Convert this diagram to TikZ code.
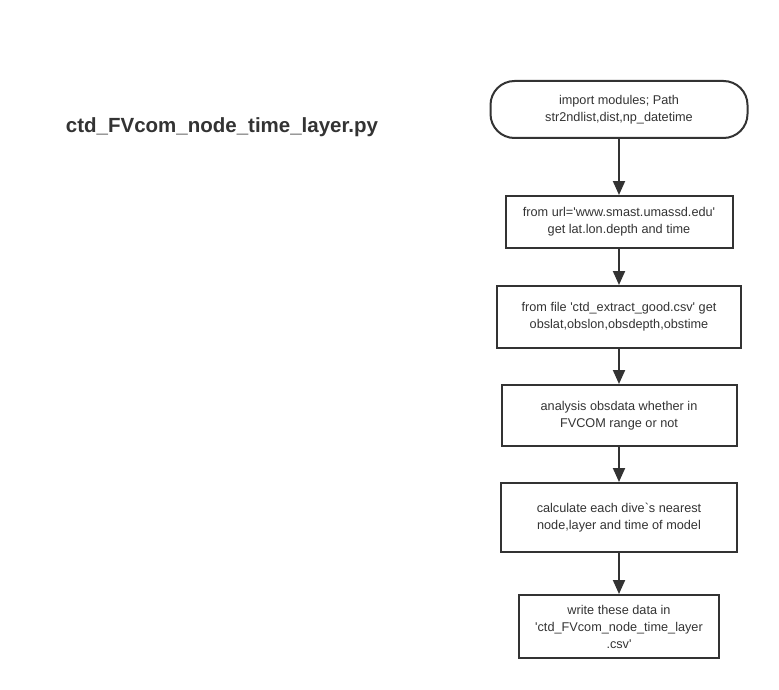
\documentclass[tikz,border=0pt]{standalone}
\usepackage{fontspec}
\setmainfont{Liberation Sans}
\usetikzlibrary{positioning,arrows.meta}
\definecolor{linegray}{HTML}{333333}
\begin{document}
\begin{tikzpicture}[x=1pt,y=-1pt]
\tikzset{stepbox/.style={draw=linegray,line width=2pt,align=center,font=\fontsize{12.7}{17}\selectfont,text=linegray,inner sep=0pt}}
\tikzset{flow/.style={draw=linegray,line width=2pt,-{Triangle[length=14pt,width=12pt]}}}
\useasboundingbox (0,0) rectangle (779,690);
\node[font=\fontsize{20.5}{22}\selectfont\bfseries,text=linegray] (title) at (222,127) {ctd\_FVcom\_node\_time\_layer.py};
\node[stepbox,rounded corners=24pt,minimum width=257pt,minimum height=57pt] (imp) at (619,109.5)
  {import modules; Path\\str2ndlist,dist,np\_datetime};
\node[stepbox,minimum width=227pt,minimum height=52pt] (url) at (619,222)
  {from url=\textquotesingle www.smast.umassd.edu\textquotesingle\\get lat.lon.depth and time};
\node[stepbox,minimum width=244pt,minimum height=62pt] (file) at (619,317)
  {from file \textquotesingle ctd\_extract\_good.csv\textquotesingle\ get\\obslat,obslon,obsdepth,obstime};
\node[stepbox,minimum width=235pt,minimum height=61pt] (range) at (619,415.5)
  {analysis obsdata whether in\\FVCOM range or not};
\node[stepbox,minimum width=236pt,minimum height=69pt] (near) at (619,517.5)
  {calculate each dive\textasciigrave s nearest\\node,layer and time of model};
\node[stepbox,minimum width=200pt,minimum height=63pt] (write) at (619,626.5)
  {write these data in\\\textquotesingle ctd\_FVcom\_node\_time\_layer\\.csv\textquotesingle};
\draw[flow] (imp) -- (url);
\draw[flow] (url) -- (file);
\draw[flow] (file) -- (range);
\draw[flow] (range) -- (near);
\draw[flow] (near) -- (write);
\end{tikzpicture}
\end{document}
